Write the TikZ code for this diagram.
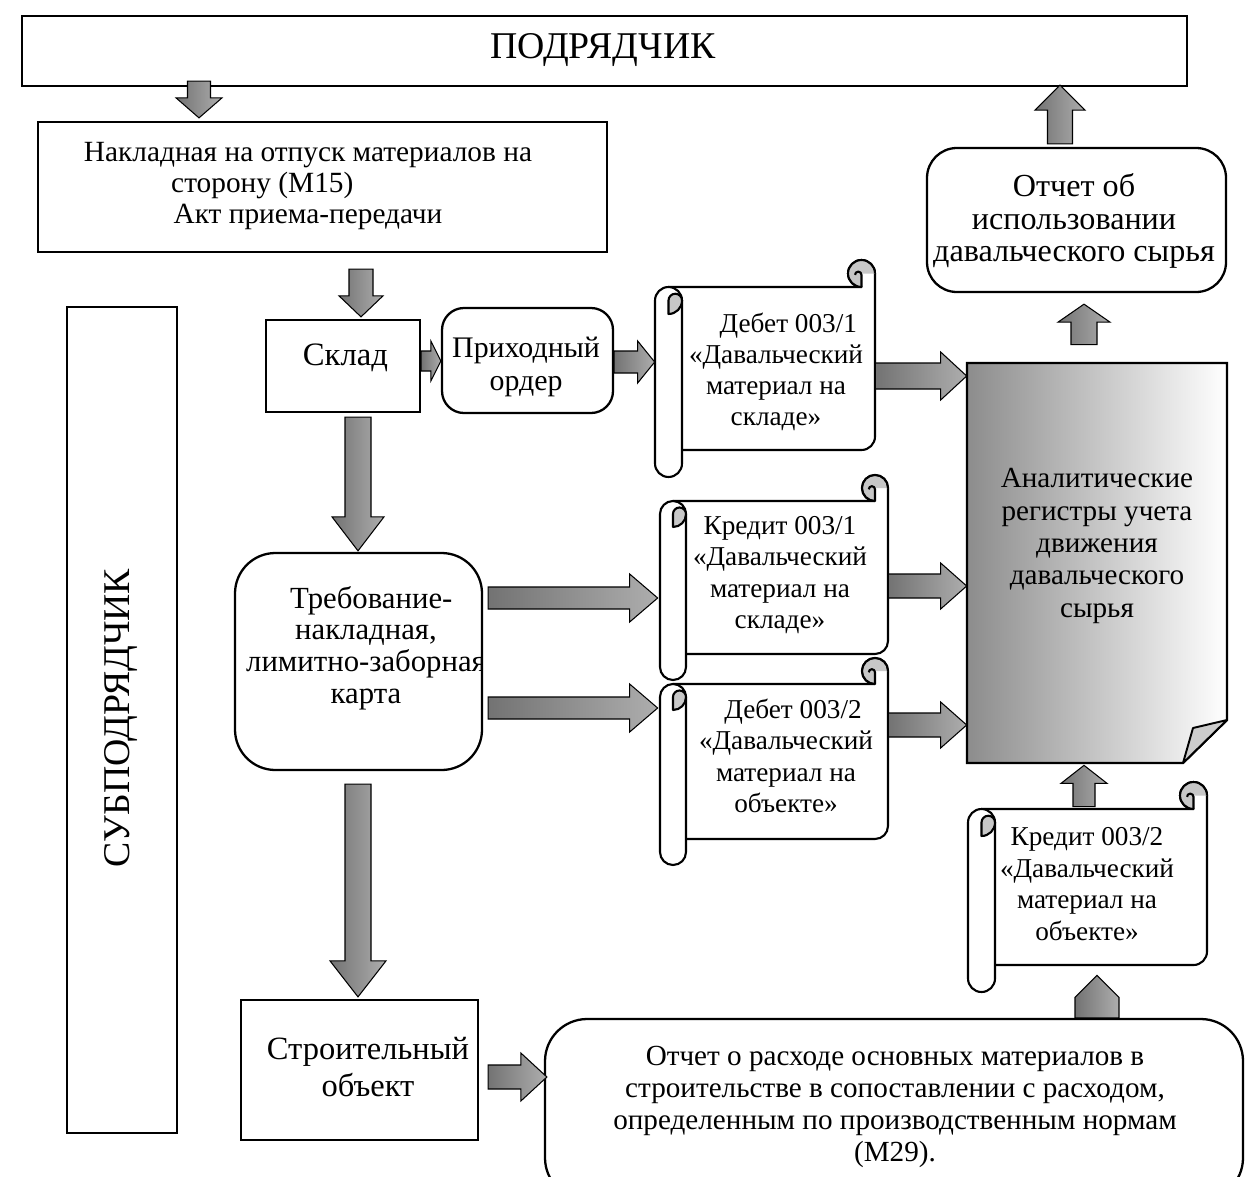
\documentclass[tikz,border=0pt]{standalone}
\usepackage{fontspec}
\setmainfont{Liberation Serif}
\usetikzlibrary{calc}

\definecolor{curlgray}{gray}{0.78}
\definecolor{arrowdark}{gray}{0.45}
\definecolor{arrowlight}{gray}{0.68}
\definecolor{docdark}{gray}{0.55}
\definecolor{foldgray}{gray}{0.8}

% block arrow from #1 to #2; shaft half width #3, head half width #4, head length #5 (pixel units)
\newcommand\blockarrow[5]{%
  \pgfmathsetlengthmacro\bas{#3*0.02cm}%
  \pgfmathsetlengthmacro\bah{#4*0.02cm}%
  \pgfmathsetlengthmacro\bal{#5*0.02cm}%
  \coordinate (ba-s) at #1;
  \coordinate (ba-e) at #2;
  \coordinate (ba-m) at ($(ba-e)!\bal!(ba-s)$);
  \draw[blockfill] ($(ba-s)!\bas!90:(ba-e)$) -- ($(ba-m)!\bas!90:(ba-e)$)
    -- ($(ba-m)!\bah!90:(ba-e)$) -- (ba-e) -- ($(ba-m)!\bah!-90:(ba-e)$)
    -- ($(ba-m)!\bas!-90:(ba-e)$) -- ($(ba-s)!\bas!-90:(ba-e)$) -- cycle;
}

% paper scroll: left edge #1, top #2, width #3, height #4, roll size #5
\newcommand\scrollshape[5]{%
  \begin{scope}[shift={(#1,#2)}]
    \pgfmathsetmacro\sW{#3}\pgfmathsetmacro\sH{#4}\pgfmathsetmacro\sc{#5}
    % sheet with the rolled top-right edge
    \draw[sline, fill=white] (\sc,\sH-\sc) -- (\sW-0.5*\sc,\sH-\sc)
      arc[start angle=90, end angle=0, radius=0.5*\sc] -- (\sW,0.5*\sc)
      arc[start angle=0, end angle=-270, radius=0.5*\sc] -- (0.5*\sc,\sc)
      -- (0.5*\sc,\sH-\sc) -- cycle;
    \fill[curlgray] (\sW-0.5*\sc,\sc) arc[start angle=90, end angle=360, radius=0.5*\sc]
      -- (\sW-0.5*\sc,0.5*\sc) -- cycle;
    \draw[sline] (\sW-0.5*\sc,\sc) arc[start angle=90, end angle=360, radius=0.5*\sc];
    \draw[sline] (\sW-0.5*\sc,\sc) -- (\sW-0.5*\sc,0.55*\sc)
      arc[start angle=0, end angle=-180, radius=0.12*\sc];
    % left roll
    \draw[sline, fill=white] (0,1.5*\sc) -- (0,\sH-0.5*\sc)
      arc[start angle=180, end angle=0, radius=0.5*\sc] -- (\sc,1.5*\sc)
      arc[start angle=0, end angle=-180, radius=0.5*\sc] -- cycle;
    \draw[sline, fill=curlgray] (0.5*\sc,2*\sc) -- (0.5*\sc,1.5*\sc)
      arc[start angle=180, end angle=360, radius=0.25*\sc]
      arc[start angle=0, end angle=90, radius=0.5*\sc] -- cycle;
  \end{scope}%
}

\begin{document}
\begin{tikzpicture}[x=0.02cm, y=-0.02cm,
  box/.style={draw, line width=1.3pt, fill=white, inner sep=0pt},
  pxsize/.style 2 args={minimum width=#1*0.02cm, minimum height=#2*0.02cm},
  frame/.style={inner sep=0pt},
  txt/.style 2 args={align=center, inner sep=0pt, font=\fontsize{#1}{#2}\selectfont},
  bigtxt/.style={inner sep=0pt, font=\fontsize{21.5}{25}\selectfont},
  sline/.style={line width=1.2pt, line join=round},
  blockfill/.style={draw=black, line width=0.6pt, line join=miter,
    left color=arrowdark, right color=arrowlight}]

\fill[white] (0,0) rectangle (1246,1176);
\useasboundingbox (0,0) rectangle (1246,1176);

% contractor
\node[box, pxsize={1165}{70}] (podr) at (604.5,51) {};
\node[bigtxt] (podrt) at (603,50) {ПОДРЯДЧИК};

% waybill
\node[box, pxsize={569}{130}] (nakl) at (322.5,187) {};
\node[txt={16.7}{17.6}] (naklt) at (308,186) {Накладная на отпуск материалов на\\\hspace*{-52pt}сторону (М15)\\Акт приема-передачи};

% subcontractor
\node[box, pxsize={110}{826}] (subp) at (122,720) {};
\node[bigtxt, rotate=90] (subpt) at (121,718) {СУБПОДРЯДЧИК};

% warehouse and receipt order
\node[box, pxsize={154}{92}] (sklad) at (343,366) {};
\node[txt={18.6}{21}] (skladt) at (345.5,358) {Склад};
\node[box, rounded corners=12.5pt, pxsize={171}{105}] (prikh) at (527.5,360.5) {};
\node[txt={17}{18.7}] (prikht) at (526,367) {Приходный\\ордер};

% report on raw materials
\node[box, rounded corners=17pt, pxsize={299}{144}] (otch) at (1076.5,220) {};
\node[txt={18.3}{18.7}] (otcht) at (1074,221) {Отчет об\\использовании\\давальческого сырья};

% requisition
\node[box, rounded corners=23pt, pxsize={247}{217}] (treb) at (358.5,661.5) {};
\begin{scope}
  \clip (237,555) rectangle (481,768);
  \node[txt={17.5}{18.1}] (trebt) at (366,648) {\hspace*{6pt}Требование-\\накладная,\\лимитно-заборная\\карта};
\end{scope}

% construction site
\node[box, pxsize={237}{140}] (stroy) at (359.5,1070) {};
\node[txt={18.5}{21}] (stroyt) at (368,1067) {Строительный\\объект};

% M29 report
\node[box, rounded corners=24pt, pxsize={698}{181}] (m29) at (894,1109.5) {};
\node[txt={16.6}{18.3}] (m29t) at (895,1107) {Отчет о расходе основных материалов в\\строительстве в сопоставлении с расходом,\\определенным по производственным нормам\\(М29).};

% analytical registers (document sheet)
\node[frame, pxsize={260}{400}] (anal) at (1097,563) {};
\draw[line width=1.3pt, left color=docdark, right color=white]
  (967,363) -- (1227,363) -- (1227,720) -- (1183,763) -- (967,763) -- cycle;
\draw[line width=1.1pt, fill=foldgray, line join=round] (1227,720) -- (1193,728) -- (1183,763) -- cycle;
\node[txt={16.6}{18.4}] (analt) at (1097,546) {Аналитические\\регистры учета\\движения\\давальческого\\сырья};

% account scrolls
\scrollshape{655}{260}{220}{217}{27}
\node[frame, pxsize={220}{217}] (deb1) at (765,368.5) {};
\node[txt={15.5}{17.6}] (deb1t) at (776,372) {\hspace*{14pt}Дебет 003/1\\«Давальческий\\материал на\\складе»};

\scrollshape{660}{475}{228}{205}{26}
\node[frame, pxsize={228}{205}] (cred1) at (774,577.5) {};
\node[txt={15.5}{17.9}] (cred1t) at (780,575) {Кредит 003/1\\«Давальческий\\материал на\\складе»};

\scrollshape{660}{658}{228}{207}{26}
\node[frame, pxsize={228}{207}] (deb2) at (774,761.5) {};
\node[txt={15.5}{17.9}] (deb2t) at (786,756) {\hspace*{8pt}Дебет 003/2\\«Давальческий\\материал на\\объекте»};

\scrollshape{968}{782}{239}{210}{27}
\node[frame, pxsize={239}{210}] (cred2) at (1087.5,887) {};
\node[txt={15.5}{17.9}] (cred2t) at (1087,884) {Кредит 003/2\\«Давальческий\\материал на\\объекте»};

% flow arrows
\blockarrow{($(podr.south -| 199,0)+(0,-6)$)}{($(nakl.north -| 199,0)+(0,-3)$)}{11.5}{23}{20}
\blockarrow{($(nakl.south -| 361,0)+(0,16)$)}{($(sklad.north -| 361,0)+(0,-2)$)}{12}{22}{21}
\blockarrow{(sklad.east |- 0,361)}{(prikh.west |- 0,361)}{10}{20}{10}
\blockarrow{(prikh.east |- 0,362)}{(deb1.west |- 0,362)}{11}{21}{17}
\blockarrow{(deb1.east |- 0,376)}{(anal.west |- 0,376)}{13}{24}{26}
\blockarrow{(cred1.east |- 0,586)}{(anal.west |- 0,586)}{12}{23}{26}
\blockarrow{(deb2.east |- 0,725)}{(anal.west |- 0,725)}{12}{23}{26}
\blockarrow{($(cred2.north -| 1084,0)+(0,25)$)}{($(anal.south -| 1084,0)+(0,2)$)}{11}{23}{18}
\blockarrow{(m29.north -| 1097,0)}{($(cred2.south -| 1097,0)+(0,-17)$)}{22}{22}{22}
\blockarrow{($(treb.east |- 0,598)+(5,0)$)}{($(cred1.west |- 0,598)+(-2,0)$)}{11}{24}{28}
\blockarrow{($(treb.east |- 0,708)+(5,0)$)}{($(deb2.west |- 0,708)+(-2,0)$)}{11}{24}{28}
\blockarrow{($(sklad.south -| 358,0)+(0,4)$)}{($(treb.north -| 358,0)+(0,-1)$)}{13}{26}{34}
\blockarrow{($(treb.south -| 358,0)+(0,13)$)}{($(stroy.north -| 358,0)+(0,-2)$)}{13}{28}{36}
\blockarrow{($(stroy.east |- 0,1077)+(9,0)$)}{($(m29.west |- 0,1077)+(3,0)$)}{12}{24}{26}
\blockarrow{($(anal.north -| 1084,0)+(0,-18)$)}{($(otch.south -| 1084,0)+(0,11)$)}{13}{26}{18}
\blockarrow{($(otch.north -| 1060,0)+(0,-3)$)}{($(podr.south -| 1060,0)+(0,-2)$)}{12.5}{25}{25}

\end{tikzpicture}
\end{document}
